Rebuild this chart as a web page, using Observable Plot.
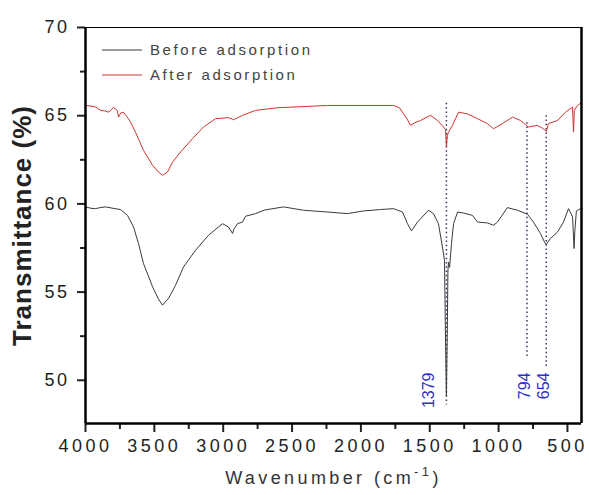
<!DOCTYPE html>
<html><head><meta charset="utf-8">
<script src="https://cdn.jsdelivr.net/npm/d3@7"></script>
<script src="https://cdn.jsdelivr.net/npm/@observablehq/plot@0.6"></script>
<style>
body{margin:0;background:#fff;}
svg{font-family:"Liberation Sans",Arial,sans-serif;}
</style>
</head><body><div id="chart"></div>
<script>
// ---- data ----
const seriesNames = ["Before adsorption", "After adsorption"];

const beforeWn = [4000,3960,3927,3900,3855,3800,3746,3695,3651,3615,3579,3513,3470,3441,3397,3346,3288,3201,3107,3005,2962,2932,2920,2896,2860,2838,2765,2700,2562,2417,2243,2097,1981,1858,1763,1698,1662,1633,1589,1509,1473,1437,1408,1393,1385,1379,1373,1368,1364,1356,1342,1327,1298,1255,1190,1153,1081,1037,1008,936,863,790,747,696,667,654,623,572,529,492,463,452,446,435,427,405];
const beforeT  = [59.83,59.75,59.73,59.78,59.83,59.75,59.68,59.35,58.69,57.75,56.62,55.30,54.60,54.26,54.64,55.39,56.43,57.37,58.22,58.88,58.69,58.32,58.60,58.88,58.97,59.30,59.45,59.65,59.83,59.64,59.54,59.45,59.60,59.68,59.73,59.54,58.88,58.47,58.97,59.64,59.45,58.88,57.56,56.80,52.00,49.10,52.50,56.20,56.70,56.40,57.76,58.88,59.54,59.48,59.35,58.97,58.92,58.79,58.97,59.79,59.64,59.41,58.97,58.32,57.84,57.70,58.04,58.41,58.97,59.73,59.26,57.47,58.50,59.60,59.64,59.73];

const afterWn = [4000,3960,3927,3890,3855,3830,3797,3770,3760,3745,3724,3700,3673,3637,3579,3513,3470,3441,3405,3368,3310,3223,3143,3056,2962,2925,2860,2765,2606,2243,1763,1720,1690,1660,1640,1610,1567,1495,1444,1400,1385,1379,1372,1364,1335,1291,1226,1153,1081,1037,972,899,841,783,718,674,654,638,572,514,463,456,450,427,398];
const afterT  = [65.58,65.55,65.49,65.30,65.26,65.20,65.47,65.30,64.92,65.15,65.20,64.95,64.64,64.07,63.04,62.19,61.80,61.62,61.80,62.37,62.94,63.70,64.36,64.83,64.89,64.77,65.02,65.30,65.45,65.58,65.58,65.45,65.11,64.75,64.45,64.60,64.73,65.02,64.73,64.36,64.20,63.20,63.90,64.07,64.45,65.20,65.10,64.83,64.55,64.26,64.55,64.92,64.73,64.36,64.45,64.26,64.10,64.55,64.73,65.20,65.49,64.07,65.30,65.58,65.75];

const peakWn     = [1379, 794, 654];
const peakTop    = [65.7, 64.6, 65.0];
const peakBottom = [48.6, 51.3, 50.7];
const peakLabelT = [50.44, 50.44, 50.44];

const xTicks = [4000, 3500, 3000, 2500, 2000, 1500, 1000, 500];
const xMinor = [3750, 3250, 2750, 2250, 1750, 1250, 750];
const yTicks = [50, 55, 60, 65, 70];
const yMinor = [52.5, 57.5, 62.5, 67.5];
const xDomain = [4000, 398];
const yDomain = [47.55, 70];
const xTitle = ["Wavenumber (cm", "-1", ")"];
const yTitle = "Transmittance (%)";

// ---- tables ----
const before = beforeWn.map((wn, i) => ({wn, t: beforeT[i]}));
const after = afterWn.map((wn, i) => ({wn, t: afterT[i]}));
const peaks = peakWn.map((wn, i) => ({wn, top: peakTop[i], bottom: peakBottom[i], lt: peakLabelT[i], label: String(wn)}));

const colors = ["#3a3a3a", "#cc3434"];
const font = "Liberation Sans, Arial, sans-serif";

const plot = Plot.plot({
  width: 589, height: 495,
  marginLeft: 85, marginRight: 8, marginTop: 27, marginBottom: 72,
  style: {fontFamily: font, background: "#fff"},
  x: {domain: xDomain},
  y: {domain: yDomain},
  marks: [
    Plot.ruleX(peaks, {x: "wn", y1: "top", y2: "bottom", stroke: "#4b2d5f", strokeWidth: 1.5, strokeDasharray: "1.5,2.8"}),
    Plot.line(before, {x: "wn", y: "t", stroke: colors[0], strokeWidth: 1}),
    Plot.line(after, {x: "wn", y: "t", stroke: colors[1], strokeWidth: 1}),
    Plot.text(peaks.slice(0, 1), {x: "wn", y: "lt", text: "label", rotate: -90, textAnchor: "end", fill: "#3030c8", fontSize: 16, dx: -18}),
    Plot.text(peaks.slice(1), {x: "wn", y: "lt", text: "label", rotate: -90, textAnchor: "end", fill: "#3030c8", fontSize: 16, dx: -2}),
    Plot.axisX(xTicks, {tickSize: 9, tickPadding: 7, fontSize: 18, tickFormat: d => String(d), label: null, color: "#222", strokeWidth: 2}),
    Plot.axisX(xMinor, {tickSize: 6, tickFormat: () => "", label: null, color: "#222", strokeWidth: 2}),
    Plot.axisY(yTicks, {tickSize: 8, tickPadding: 8, fontSize: 18, tickFormat: d => String(d), label: null, color: "#222", strokeWidth: 2}),
    Plot.axisY(yMinor, {tickSize: 5, tickFormat: () => "", label: null, color: "#222", strokeWidth: 2}),
    Plot.ruleX([xDomain[0]], {stroke: "#000", strokeWidth: 2.5}),
    Plot.ruleX([xDomain[1]], {stroke: "#000", strokeWidth: 2.5}),
    Plot.ruleY([yDomain[0]], {stroke: "#000", strokeWidth: 2.5}),
    Plot.ruleY([yDomain[1]], {stroke: "#000", strokeWidth: 1.2}),
    Plot.text([yTitle], {frameAnchor: "left", rotate: -90, dx: -63, text: d => d, fontSize: 26, fontWeight: "bold", fill: "#222", textAnchor: "middle"}),
    Plot.text([xTitle[0]], {frameAnchor: "bottom", dy: 60, text: d => d, fontSize: 18, fill: "#333", textAnchor: "middle"})
  ]
});

const svg = d3.select(plot);
const xTickSet = new Set(xTicks.map(String));
const yTickSet = new Set(yTicks.map(String));
svg.selectAll("text").each(function() {
  const s = this.textContent;
  const el = d3.select(this);
  if (xTickSet.has(s)) el.style("letter-spacing", "3.5px");
  else if (yTickSet.has(s)) el.style("letter-spacing", "2.5px");
  else if (s === yTitle) el.style("letter-spacing", "1px");
  else if (s === xTitle[0]) {
    el.style("letter-spacing", "3.4px");
    el.append("tspan").attr("dy", -8).attr("font-size", 13).text(xTitle[1]);
    el.append("tspan").attr("dy", 8).text(xTitle[2]);
  }
});

// legend inside the frame, top-left
const xs = plot.scale("x"), ys = plot.scale("y");
const lx = xs.apply(xDomain[0]) + 17, ly = ys.apply(yDomain[1]) + 23;
const leg = svg.append("g").attr("aria-label", "legend").attr("text-anchor", "start");
seriesNames.forEach((name, i) => {
  const y = ly + i * 25;
  leg.append("line").attr("x1", lx).attr("x2", lx + 40).attr("y1", y).attr("y2", y)
    .attr("stroke", colors[i]).attr("stroke-width", 1);
  leg.append("text").attr("x", lx + 48).attr("y", y).attr("dy", "0.36em")
    .attr("text-anchor", "start")
    .attr("font-size", 15).attr("fill", "#444").style("letter-spacing", "2.6px").text(name);
});

document.getElementById("chart").appendChild(plot);
</script>
</body></html>
